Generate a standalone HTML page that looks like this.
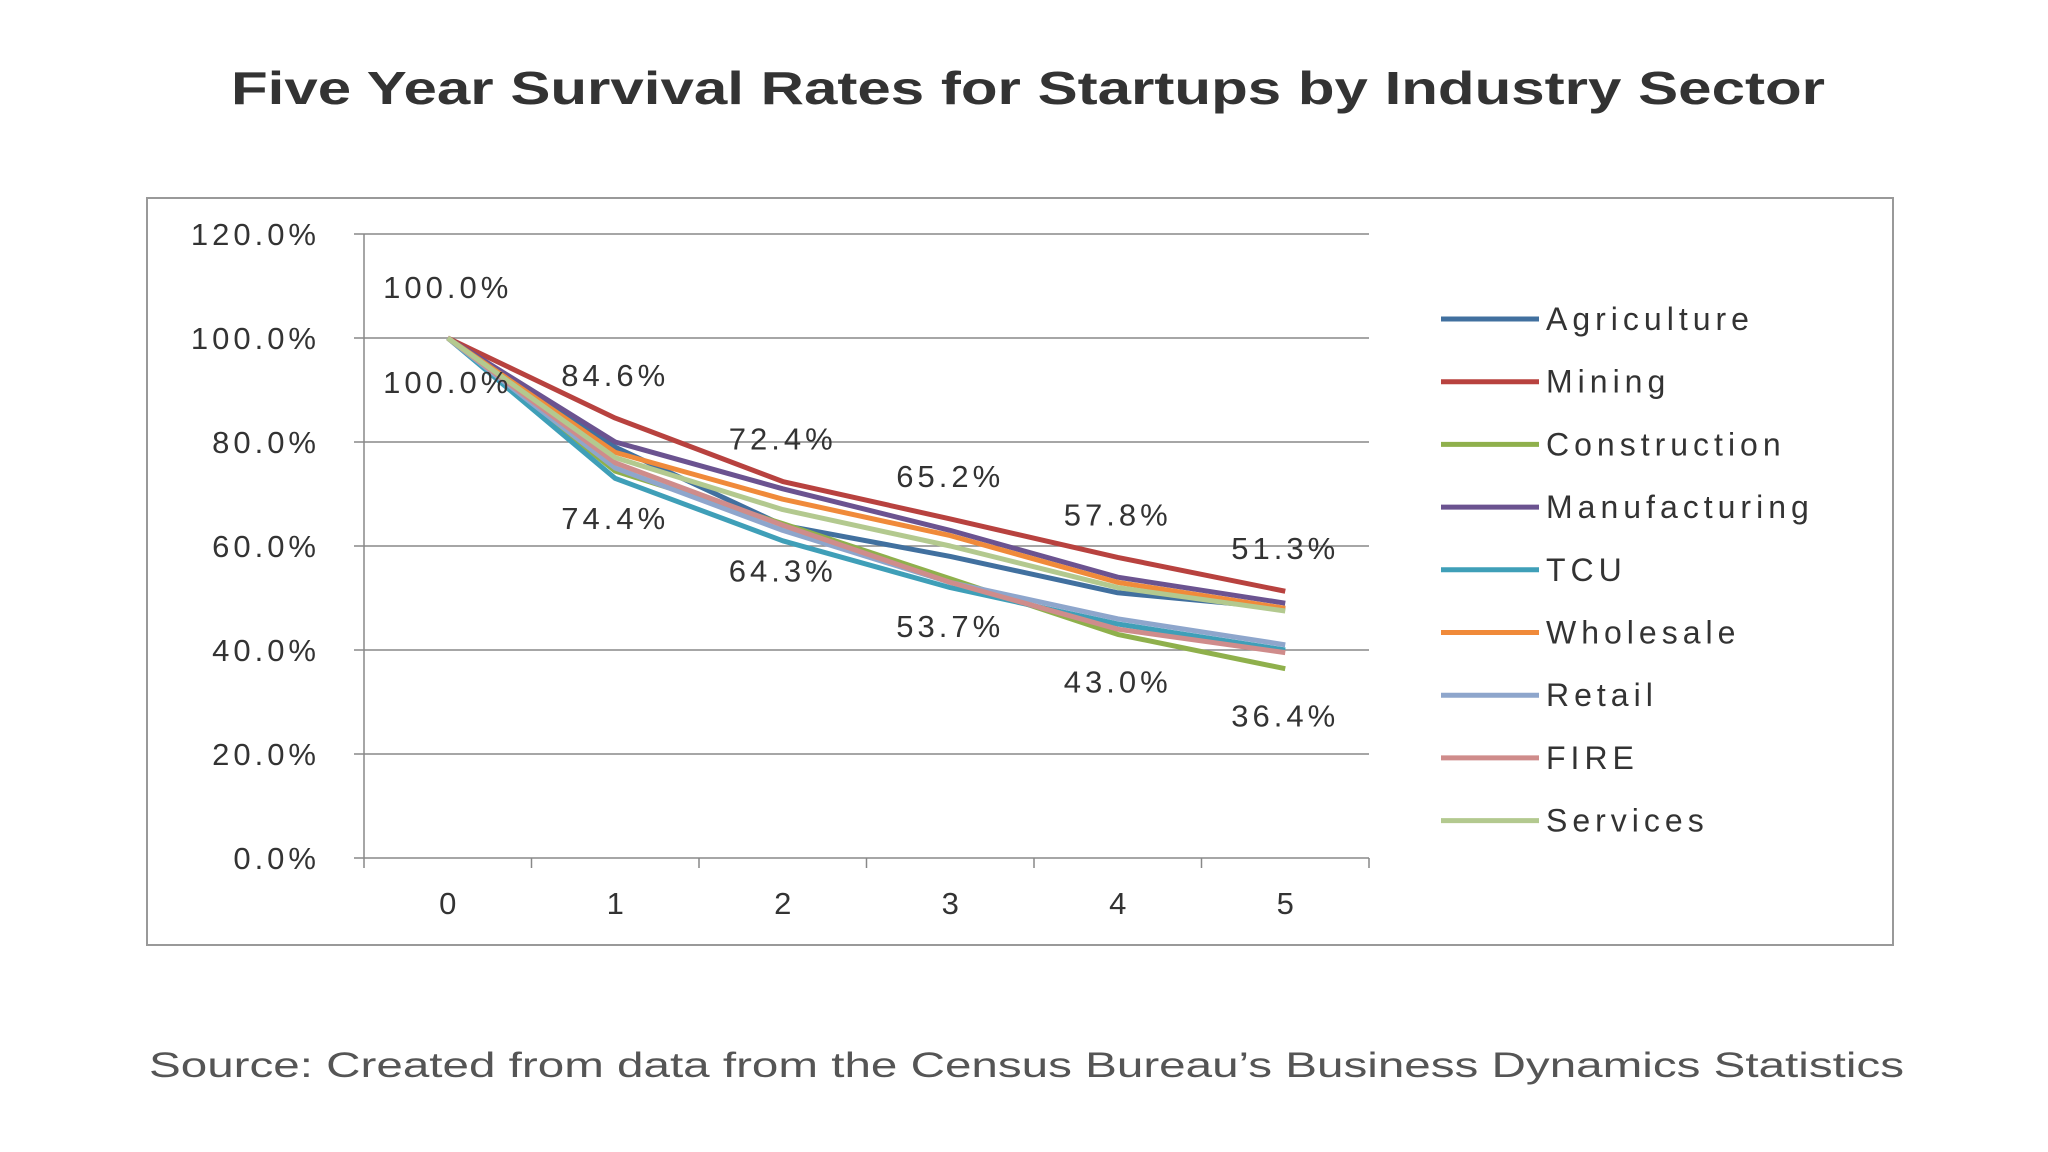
<!DOCTYPE html>
<html><head><meta charset="utf-8"><style>
html,body{margin:0;padding:0;background:#fff;width:2048px;height:1152px;overflow:hidden;font-family:"Liberation Sans",sans-serif;}
</style></head><body>
<svg id="chart" width="2048" height="1152" xmlns="http://www.w3.org/2000/svg">
<text x="231" y="104" textLength="1594" lengthAdjust="spacingAndGlyphs" font-size="46" font-weight="bold" fill="#333">Five Year Survival Rates for Startups by Industry Sector</text>
<rect x="147" y="198" width="1746" height="747" fill="#fff" stroke="#999" stroke-width="2"/>
<g id="grid"></g><g id="axes"></g><g id="lines"></g><g id="labels"></g><g id="legend"></g>
<text x="149" y="1077" textLength="1755" lengthAdjust="spacingAndGlyphs" font-size="35" fill="#555">Source: Created from data from the Census Bureau’s Business Dynamics Statistics</text>
</svg>
<script>
const categories=[0,1,2,3,4,5];
const yTicks=[0,20,40,60,80,100,120];
const seriesNames=["Agriculture","Mining","Construction","Manufacturing","TCU","Wholesale","Retail","FIRE","Services"];
const colors=["#41709f","#b8423f","#8fb04c","#6b5390","#3f9fb8","#f08a3a","#8ea6cc","#cf8c8b","#b3c98f"];
const agriculture=[100,79,64,58,51,48];
const mining=[100,84.6,72.4,65.2,57.8,51.3];
const construction=[100,74.4,64.3,53.7,43.0,36.4];
const manufacturing=[100,80,71,63,54,49];
const tcu=[100,73,61,52,45,40];
const wholesale=[100,78,69,62,53,48];
const retail=[100,75,63,53,46,41];
const fire=[100,76,64,53,44,39.5];
const services=[100,77,67,60,52,47.5];
const seriesValues=[agriculture,mining,construction,manufacturing,tcu,wholesale,retail,fire,services];

const NS="http://www.w3.org/2000/svg";
const x0=364,x1=1369,y0=858,y1=234;
const band=(x1-x0)/categories.length;
const xs=i=>x0+band*(i+0.5);
const ys=v=>y0-(v/120)*(y0-y1);
function mk(tag,attrs,parent){const e=document.createElementNS(NS,tag);for(const k in attrs)e.setAttribute(k,attrs[k]);parent.appendChild(e);return e;}
const grid=document.getElementById('grid'),axes=document.getElementById('axes'),lines=document.getElementById('lines'),labels=document.getElementById('labels'),legend=document.getElementById('legend');
yTicks.forEach(t=>{
  const y=ys(t);
  if(t>0){const g=mk('line',{x1:x0,x2:x1,y1:y,y2:y,stroke:'#888','stroke-width':1.5},grid);
  
  }
  const tk=mk('line',{x1:x0-10,x2:x0,y1:y,y2:y,stroke:'#888','stroke-width':1.5},axes);
  
  
  const tx=mk('text',{x:x0-44,y:y+11,'text-anchor':'end','font-size':31,'letter-spacing':4,fill:'#333'},axes);
  tx.textContent=t.toFixed(1)+'%';
  
  
});
const ya=mk('line',{x1:x0,x2:x0,y1:y1,y2:y0,stroke:'#888','stroke-width':1.5},axes);


const xa=mk('line',{x1:x0,x2:x1,y1:y0,y2:y0,stroke:'#888','stroke-width':1.5},axes);


for(let i=0;i<=categories.length;i++){
  const t=mk('line',{x1:x0+band*i,x2:x0+band*i,y1:y0,y2:y0+10,stroke:'#888','stroke-width':1.5},axes);
  
  
}
categories.forEach((c,i)=>{
  const t=mk('text',{x:xs(i),y:914,'text-anchor':'middle','font-size':31,fill:'#333'},axes);
  t.textContent=c;
  
  
});
seriesValues.forEach((vals,s)=>{
  const p=mk('polyline',{points:vals.map((v,i)=>xs(i)+','+ys(v)).join(' '),fill:'none',stroke:colors[s],'stroke-width':5,'stroke-linejoin':'round'},lines);
  
  
});
function lab(txt,x,y){const t=mk('text',{x:x,y:y,'text-anchor':'middle','font-size':31,'letter-spacing':4,fill:'#333'},labels);t.textContent=txt;
  
  }
mining.forEach((v,i)=>lab(v.toFixed(1)+'%',xs(i),ys(v)-(i==0?40:32)));
construction.forEach((v,i)=>lab(v.toFixed(1)+'%',xs(i),ys(v)+(i==0?55:58)));
seriesNames.forEach((n,s)=>{
  const y=319+62.7*s;
  const l=mk('line',{x1:1441,x2:1539,y1:y,y2:y,stroke:colors[s],'stroke-width':5},legend);
  
  
  const t=mk('text',{x:1546,y:y+11,'font-size':32,'letter-spacing':5,fill:'#333'},legend);
  t.textContent=n;
  
  
});
</script>
</body></html>
